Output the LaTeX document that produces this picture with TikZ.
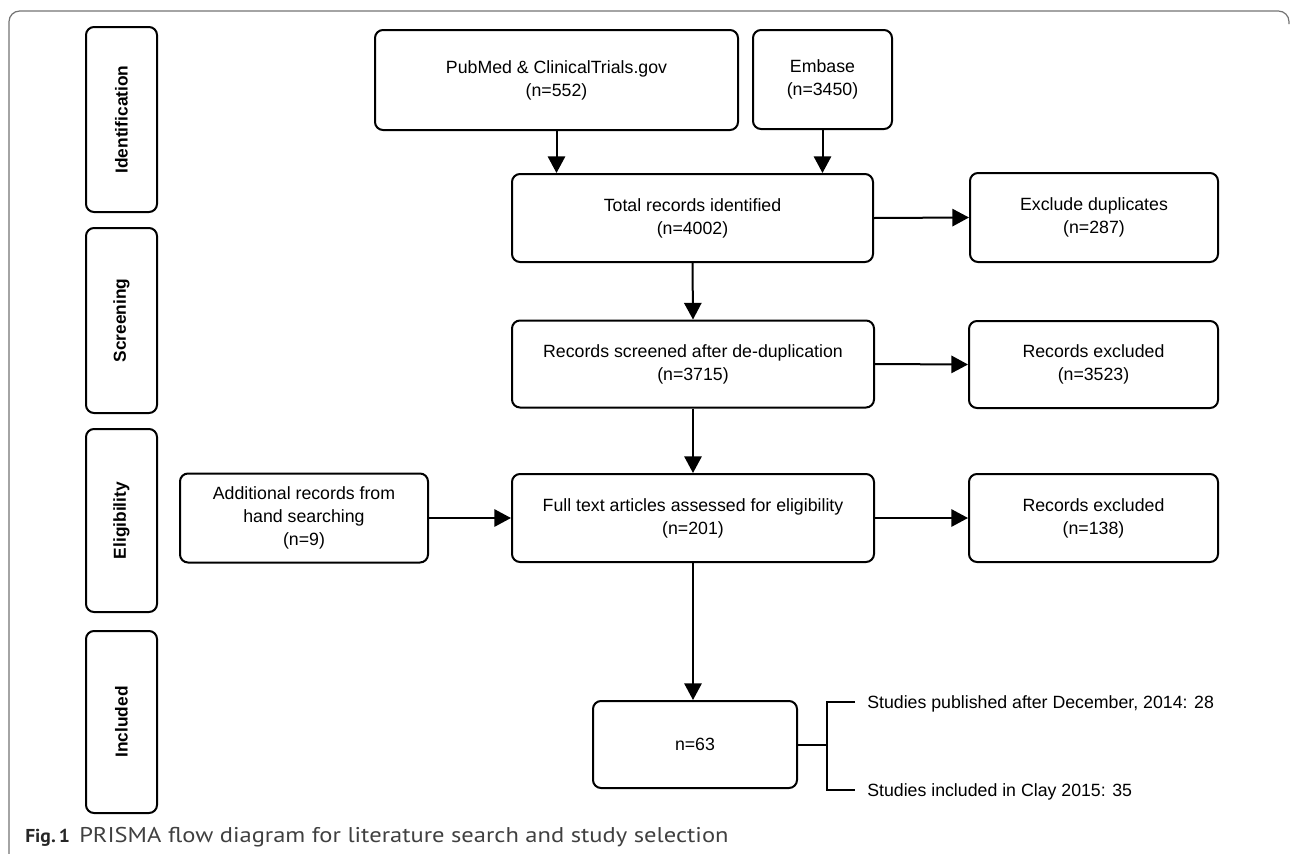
\documentclass[tikz,border=0pt]{standalone}
\usepackage{fontspec}
\setmainfont{Liberation Sans}
\newfontfamily\capfont[FakeStretch=1.15]{PT Sans}
\newfontfamily\figfont[FakeStretch=1.05]{PT Sans}
\usetikzlibrary{arrows.meta}
\begin{document}
\begin{tikzpicture}[x=0.75pt,y=-0.75pt,
  box/.style={draw, line width=1.5pt, rounded corners=6pt, align=center, inner sep=0pt,
    font=\fontsize{13.3}{17.3}\selectfont},
  sz/.style 2 args={minimum width=#1*0.75pt, minimum height=#2*0.75pt},
  phase/.style={draw, line width=1.5pt, rounded corners=6pt, rotate=90, inner sep=0pt,
    minimum height=71*0.75pt, font=\fontsize{13}{15}\selectfont\bfseries},
  arr/.style={line width=1.5pt, -{Triangle[length=12.5pt,width=13pt]}},
  ln/.style={line width=1.5pt},
  frame/.style={draw=black!55, line width=0.9pt, rounded corners=8pt},
  note/.style={anchor=west, inner sep=0pt, font=\fontsize{13.3}{17.3}\selectfont},
  ]
\useasboundingbox (0,0) rectangle (1290,854);
% outer frame
\draw[frame] (9,856) -- (9,11) -- (1289,11) -- (1289,24);

% phase labels
\node[phase, minimum width=185*0.75pt] (pid) at (121.5,119.5) {Identification};
\node[phase, minimum width=185*0.75pt] (psc) at (121.5,320.5) {Screening};
\node[phase, minimum width=183*0.75pt] (pel) at (121.5,520.5) {Eligibility};
\node[phase, minimum width=182*0.75pt] (pin) at (121.5,722) {Included};

% boxes
\node[box, sz={363}{100}] (pub) at (556.5,80) {PubMed \& ClinicalTrials.gov\\(n=552)};
\node[box, sz={139}{99}] (emb) at (822.5,79.5) {Embase\\(n=3450)};
\node[box, sz={361}{88}] (tot) at (692.5,218) {Total records identified\\(n=4002)};
\node[box, sz={248}{89}] (exd) at (1094,217.5) {Exclude duplicates\\(n=287)};
\node[box, sz={362}{87}] (scr) at (693,364) {Records screened after de-duplication\\(n=3715)};
\node[box, sz={249}{87}] (rx1) at (1093.5,364.5) {Records excluded\\(n=3523)};
\node[box, sz={248}{89}] (add) at (304,518) {Additional records from\\hand searching\\(n=9)};
\node[box, sz={362}{88}] (ful) at (693,518) {Full text articles assessed for eligibility\\(n=201)};
\node[box, sz={249}{88}] (rx2) at (1093.5,518) {Records excluded\\(n=138)};
\node[box, sz={204}{87}] (inc) at (695,744.5) {n=63};

% arrows
\draw[arr] (pub.south) -- (pub.south |- tot.north);
\draw[arr] (emb.south) -- (emb.south |- tot.north);
\draw[arr] (tot.east) -- (exd.west);
\draw[arr] (tot.south) -- (scr.north);
\draw[arr] (scr.east) -- (rx1.west);
\draw[arr] (scr.south) -- (ful.north);
\draw[arr] (add.east) -- (ful.west);
\draw[arr] (ful.east) -- (rx2.west);
\draw[arr] (ful.south) -- (ful.south |- inc.north);

% bracket
\coordinate (bt) at (827,702);
\coordinate (bb) at (827,790);
\coordinate (t1) at (855,702);
\coordinate (t2) at (855,790);
\node[note] (s1) at (867,704) {Studies published after December, 2014: 28};
\node[note] (s2) at (867,792) {Studies included in Clay 2015: 35};
\draw[ln] (t1) -- (bt) -- (bb) -- (t2);
\draw[ln] (inc.east) -- (inc.east -| bt);

% caption
\node[anchor=base west, inner sep=0pt, font=\figfont\fontsize{14}{17}\selectfont\bfseries, text=black!85] (fig) at (25,842) {Fig.\,1};
\node[anchor=base west, inner sep=0pt, font=\capfont\fontsize{16}{19}\selectfont, text=black!75] (cap) at (79,842) {PRISMA flow diagram for literature search and study selection};
\end{tikzpicture}
\end{document}
